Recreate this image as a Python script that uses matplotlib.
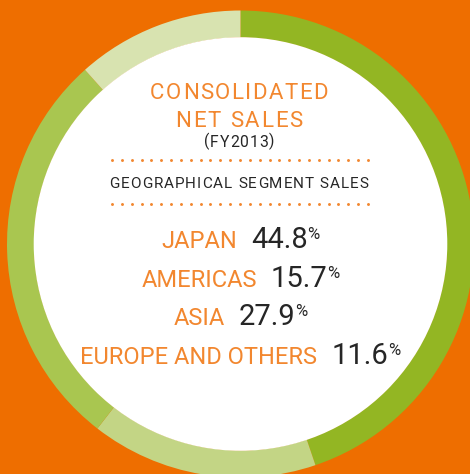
import matplotlib
matplotlib.use('Agg')
import matplotlib.pyplot as plt
from matplotlib.patches import Circle
from matplotlib import font_manager
from matplotlib.ft2font import FT2Font
import numpy as np

# ---- data ----
regions = ['JAPAN', 'AMERICAS', 'ASIA', 'EUROPE AND OTHERS']
shares = [44.8, 15.7, 27.9, 11.6]
share_labels = ['44.8', '15.7', '27.9', '11.6']
title_lines = ['CONSOLIDATED', 'NET SALES']
subtitle = '(FY2013)'
section = 'GEOGRAPHICAL SEGMENT SALES'

# ---- style ----
BG = '#EE6E00'
ring_colors = ['#93B623', '#C3D585', '#A9C650', '#D8E3B0']
ORANGE = '#F2872F'
DARK = '#262626'
FAM = 'Roboto'

W, H = 470, 474
fig = plt.figure(figsize=(W / 100, H / 100), dpi=100, facecolor=BG)
ax = fig.add_axes([0, 0, 1, 1])
ax.set_facecolor(BG)

cx, cy = 240.5, H - 244
R, RW = 233.5, 27
ax.pie(shares, colors=ring_colors, startangle=90, counterclock=False,
       radius=R, center=(cx, cy),
       wedgeprops=dict(width=RW, linewidth=0, antialiased=True))
ax.add_patch(Circle((cx, cy), R - RW + 0.3, facecolor='white', edgecolor='none', zorder=2))
ax.set_xlim(0, W)
ax.set_ylim(0, H)
ax.set_aspect('auto')
ax.axis('off')

def Y(y):
    return H - y

def advances(s, fs, weight):
    path = font_manager.findfont(font_manager.FontProperties(family=FAM, weight=weight))
    f = FT2Font(path)
    f.set_size(fs, 100)
    return [f.load_char(ord(c)).linearHoriAdvance / 65536.0 for c in s]

def tracked(xc, y, s, fs, color, target_w, weight='normal'):
    adv = advances(s, fs, weight)
    natural = sum(adv)
    extra = (target_w - natural) / (len(s) - 1)
    x = xc - target_w / 2
    for c, a in zip(s, adv):
        if c != ' ':
            ax.text(x, y, c, ha='left', va='baseline', color=color,
                    fontsize=fs, family=FAM, weight=weight, zorder=5)
        x += a + extra

# titles
tracked(239, Y(99), title_lines[0], 16.0, ORANGE, 178)
tracked(239, Y(127), title_lines[1], 16.0, ORANGE, 127)
tracked(239, Y(146.5), subtitle, 11.3, DARK, 70)
tracked(239, Y(188), section, 11.0, DARK, 259)

# dotted rules
for yy in (160, 204):
    xs = np.linspace(112, 368, 27)
    ax.plot(xs, np.full_like(xs, Y(yy)), linestyle='none', marker='o',
            markersize=2.1, color=ORANGE, markeredgewidth=0, zorder=5)

# rows
fig.canvas.draw()
renderer = fig.canvas.get_renderer()
baselines = [248, 287, 325, 364]
LFS, VFS, PFS = 17.0, 21.0, 12.0
gap = 14
for name, val, yb in zip(regions, share_labels, baselines):
    t1 = ax.text(0, Y(yb), name, ha='left', va='baseline', color=ORANGE,
                 fontsize=LFS, family=FAM, weight='normal', zorder=5)
    t2 = ax.text(0, Y(yb), val, ha='left', va='baseline', color=DARK,
                 fontsize=VFS, family=FAM, weight='normal', zorder=5)
    t3 = ax.text(0, Y(yb) + 9, '%', ha='left', va='baseline', color=DARK,
                 fontsize=PFS, family=FAM, weight='normal', zorder=5)
    w1 = t1.get_window_extent(renderer).width
    w2 = t2.get_window_extent(renderer).width
    w3 = t3.get_window_extent(renderer).width
    total = w1 + gap + w2 + w3
    x0 = cx - total / 2
    t1.set_x(x0)
    t2.set_x(x0 + w1 + gap)
    t3.set_x(x0 + w1 + gap + w2)

fig.savefig('out.png', dpi=100, facecolor=BG)
